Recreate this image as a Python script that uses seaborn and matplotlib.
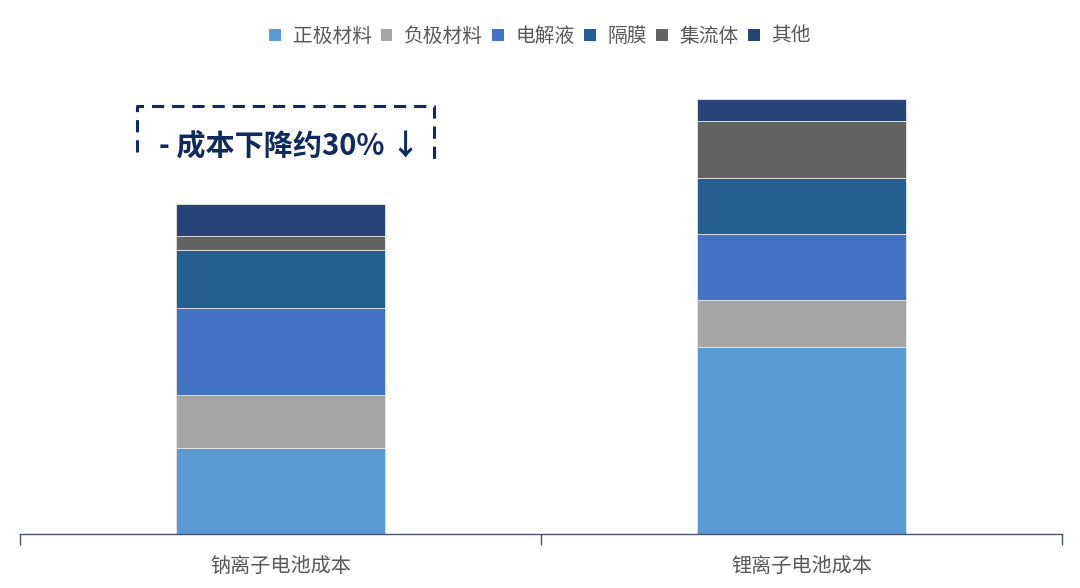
import matplotlib
matplotlib.use("Agg")
import matplotlib.pyplot as plt
import seaborn as sns
import numpy as np
import pandas as pd
from matplotlib.patches import Patch
from matplotlib.lines import Line2D

sns.set_theme(style="white")
plt.rcParams['font.family'] = ['Noto Sans CJK SC', 'DejaVu Sans']

categories = ["钠离子电池成本", "锂离子电池成本"]
components = ["正极材料", "负极材料", "电解液", "隔膜", "集流体", "其他"]
cathode = [86, 187]
anode = [53, 47]
electrolyte = [87, 66]
separator = [58, 56]
collector = [14, 57]
others = [32, 22]
annotation = "- 成本下降约30% ↓"

series = [cathode, anode, electrolyte, separator, collector, others]
colors = ["#5B9BD5", "#A5A5A5", "#4472C4", "#255E91", "#636363", "#264478"]

W, H = 1080, 588
fig = plt.figure(figsize=(W / 100, H / 100), dpi=100)
ax = fig.add_axes([20 / W, (H - 534) / H, 1042 / W, 444 / H])

bottom = np.zeros(len(categories))
for name, vals, col in zip(components, series, colors):
    df = pd.DataFrame({"cat": categories, "val": vals})
    sns.barplot(data=df, x="cat", y="val", bottom=bottom, color=col, width=0.4,
                edgecolor="#e6e6e6", linewidth=0.6, ax=ax, errorbar=None,
                saturation=1)
    bottom = bottom + np.array(vals)

ax.set_xlim(-0.5, 1.5)
ax.set_ylim(0, 444)
ax.set_xlabel("")
ax.set_ylabel("")
ax.set_yticks([])
for s in ["top", "right", "left"]:
    ax.spines[s].set_visible(False)
ax.spines["bottom"].set_color("#44546A")
ax.spines["bottom"].set_linewidth(1.0)
ax.set_xticks([0, 1])
ax.set_xticklabels(categories, fontsize=14.5, color="#595959")
ax.tick_params(axis="x", which="major", bottom=False, length=0, pad=16)
ax.set_xticks([-0.5, 0.5, 1.5], minor=True)
ax.tick_params(axis="x", which="minor", bottom=True, length=8, width=1.0,
               color="#44546A", direction="out")

handles = [Patch(facecolor=c, edgecolor="none") for c in colors]
fig.legend(handles, components, loc="upper center", bbox_to_anchor=(0.5, 1 - 8 / H),
           ncol=6, frameon=False, fontsize=14.2, handlelength=0.6, handleheight=0.6,
           handletextpad=0.6, columnspacing=0.45, labelcolor="#595959")

# dashed annotation box
def px(x, y):
    return x / W, 1 - y / H

navy = "#0E2A5E"
xs = [137, 137, 434, 434]
ys = [152, 106, 106, 165]
fx, fy = zip(*[px(x, y) for x, y in zip(xs, ys)])
fig.add_artist(Line2D(fx, fy, transform=fig.transFigure, color=navy, lw=2.2,
                      linestyle=(0, (4, 2.6)), solid_joinstyle="round"))
tx, ty = px(290, 145)
fig.text(tx, ty, annotation, ha="center", va="center", fontsize=21,
         fontweight="bold", color=navy)

fig.savefig("out.png", dpi=100)
